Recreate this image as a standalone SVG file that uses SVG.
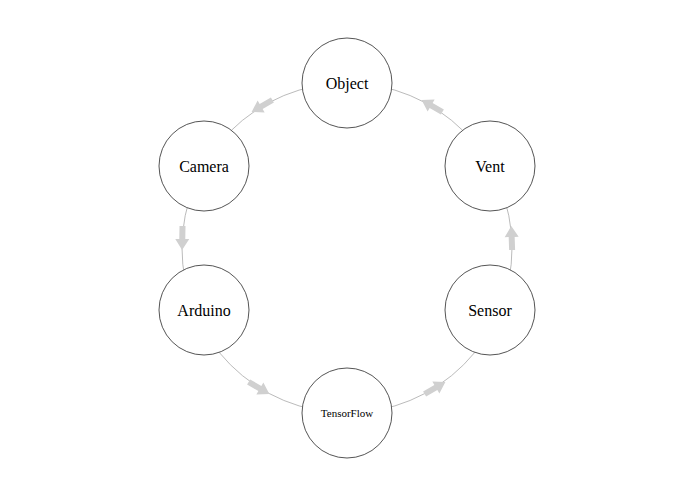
<svg xmlns="http://www.w3.org/2000/svg" width="695" height="494" viewBox="0 0 695 494">
<style>
.n{fill:#fff;stroke:#555;stroke-width:1}
.t{font-family:"Liberation Serif",serif;font-size:16px;fill:#000;text-anchor:middle;dominant-baseline:central}
.a{fill:#d0d0d0}
</style>
<defs><polygon id="ar" points="-12,-3 1,-3 1,-7 12,0 1,7 1,3 -12,3"/></defs>
<rect width="695" height="494" fill="#fff"/>
<g id="connectors">
<circle cx="347" cy="248" r="165" fill="none" stroke="#bbb" stroke-width="1"/>
<use href="#ar" class="a" transform="translate(262,106) rotate(150)"/>
<use href="#ar" class="a" transform="translate(182.3,238) rotate(91)"/>
<use href="#ar" class="a" transform="translate(259,388) rotate(30)"/>
<use href="#ar" class="a" transform="translate(435,388) rotate(-30)"/>
<use href="#ar" class="a" transform="translate(511.7,238) rotate(-92)"/>
<use href="#ar" class="a" transform="translate(432,106) rotate(-150)"/>
</g>
<g id="object"><circle class="n" cx="347" cy="83" r="45"/><text class="t" x="347" y="83">Object</text></g>
<g id="camera"><circle class="n" cx="204" cy="166" r="45"/><text class="t" x="204" y="166">Camera</text></g>
<g id="vent"><circle class="n" cx="490" cy="166" r="45"/><text class="t" x="490" y="166">Vent</text></g>
<g id="arduino"><circle class="n" cx="204" cy="310" r="45"/><text class="t" x="204" y="310">Arduino</text></g>
<g id="sensor"><circle class="n" cx="490" cy="310" r="45"/><text class="t" x="490" y="310">Sensor</text></g>
<g id="tensorflow"><circle class="n" cx="347" cy="413" r="45"/><text class="t" x="347" y="413" style="font-size:11px">TensorFlow</text></g>
</svg>
